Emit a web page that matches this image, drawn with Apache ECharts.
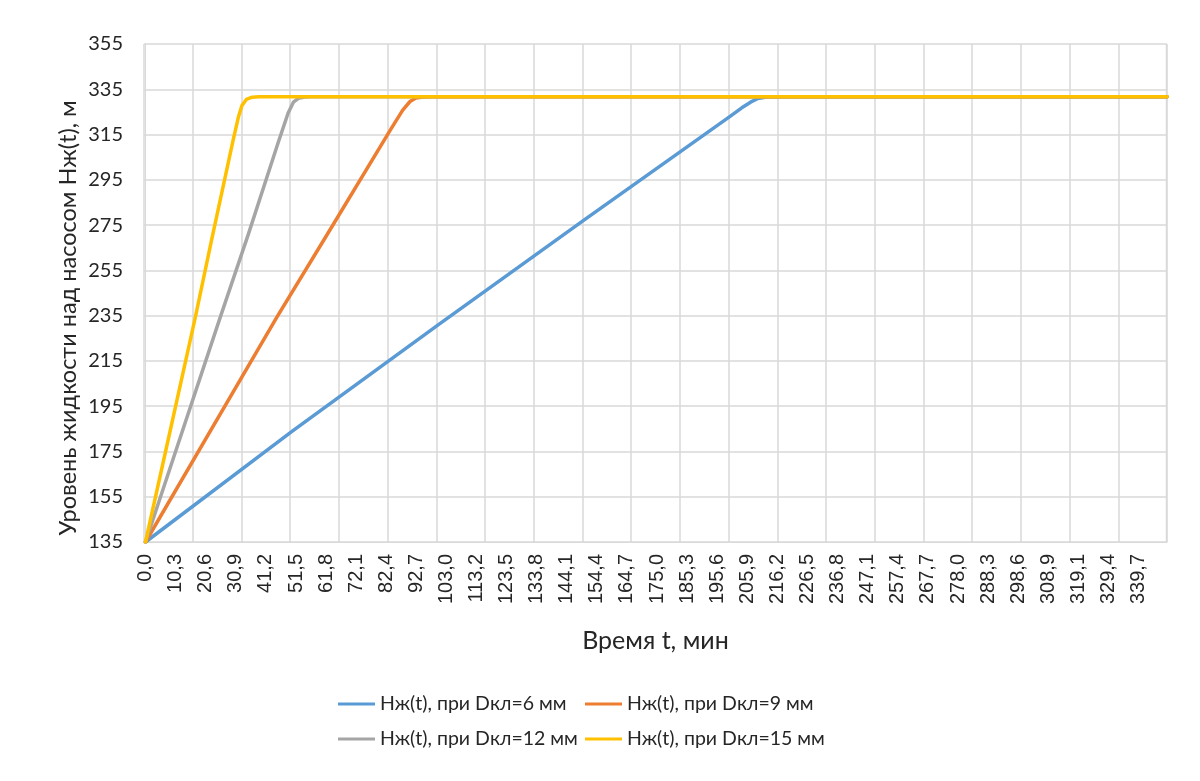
<!DOCTYPE html>
<html>
<head>
<meta charset="utf-8">
<script src="https://cdn.jsdelivr.net/npm/echarts@6/dist/echarts.min.js"></script>
<style>html,body{margin:0;padding:0;background:#fff}#c{width:1200px;height:781px}</style>
</head>
<body>
<div id="c"></div>
<script>
// ---- data ----
const seriesNames = ['Нж(t), при Dкл=6 мм', 'Нж(t), при Dкл=9 мм', 'Нж(t), при Dкл=12 мм', 'Нж(t), при Dкл=15 мм'];
// [time (min), level (m)] breakpoints
const d6  = [[0,135],[50,183.8],[100,230.8],[150,277.2],[200,323],[204,326.8],[207,329.3],[209.5,330.9],[212.5,331.6],[216,331.7],[349.5,331.7]];
const d9  = [[0,135],[45,234.5],[62,270.5],[84,317.5],[88,325.8],[90.5,329.6],[92.5,331.1],[95,331.6],[98,331.7],[349.5,331.7]];
const d12 = [[0,135],[25.5,234],[35.2,271],[45.4,311.5],[48.8,324.5],[50.6,329.3],[52.3,331.0],[54.5,331.6],[57,331.7],[349.5,331.7]];
const d15 = [[0,135],[17,234],[22.6,268.4],[30,312.6],[31.8,322.8],[33,327.8],[34.5,330.5],[36.5,331.5],[39,331.7],[349.5,331.7]];
const xTickLabels = ['0,0','10,3','20,6','30,9','41,2','51,5','61,8','72,1','82,4','92,7','103,0','113,2','123,5','133,8','144,1','154,4','164,7','175,0','185,3','195,6','205,9','216,2','226,5','236,8','247,1','257,4','267,7','278,0','288,3','298,6','308,9','319,1','329,4','339,7'];
const yMin = 135, yMax = 355, yStep = 20;
const xStep = 350 / 340;               // time per category in the source sheet
const xMin = -xStep / 2, xMax = 339.5 * xStep;
const colors = ['#5b9bd5', '#ed7d31', '#a5a5a5', '#ffc000'];

const xTickValues = xTickLabels.map(s => parseFloat(s.replace(',', '.')));
const labelFont = 'Lato, "Open Sans", sans-serif';

const chart = echarts.init(document.getElementById('c'), null, {renderer: 'canvas'});
const datas = [d6, d9, d12, d15];
chart.setOption({
  animation: false,
  backgroundColor: '#ffffff',
  grid: {left: 144, right: 33, top: 44, bottom: 239, containLabel: false},
  xAxis: [{
    type: 'value', min: xMin, max: xMax,
    name: 'Время t, мин', nameLocation: 'middle', nameGap: 86,
    nameTextStyle: {fontFamily: labelFont, fontSize: 25, color: '#262626'},
    axisLine: {show: true, lineStyle: {color: '#d9d9d9', width: 1}},
    axisTick: {show: false},
    splitLine: {show: false},
    axisLabel: {
      customValues: xTickValues,
      rotate: 90, margin: 12,
      fontFamily: '"Liberation Sans", Arial, sans-serif', fontSize: 20, color: '#262626',
      formatter: function (v) {
        let best = -1, bd = 1e9;
        xTickValues.forEach((t, i) => { const dd = Math.abs(t - v); if (dd < bd) { bd = dd; best = i; } });
        return bd < 1 ? xTickLabels[best] : '';
      }
    }
  }, {
    type: 'value', min: xMin, max: xMax, interval: (xMax - xMin) / 21,
    position: 'bottom',
    axisLine: {show: false}, axisTick: {show: false}, axisLabel: {show: false},
    splitLine: {show: true, lineStyle: {color: '#d9d9d9', width: 1.5}}
  }],
  yAxis: {
    type: 'value', min: yMin, max: yMax, interval: yStep,
    axisLine: {show: true, lineStyle: {color: '#d9d9d9'}},
    axisTick: {show: false},
    axisLabel: {fontFamily: labelFont, fontSize: 20, color: '#262626', margin: 21},
    splitLine: {show: true, lineStyle: {color: '#d9d9d9', width: 1.5}}
  },
  graphic: [{
    type: 'text', x: 68, y: 318, rotation: Math.PI / 2,
    style: {text: 'Уровень жидкости над насосом Нж(t), м', font: '23.5px Lato, "Open Sans", sans-serif',
            fill: '#262626', align: 'center', verticalAlign: 'middle'}
  }, {
    type: 'rect', shape: {x: 1166.5, y: 44, width: 0, height: 498},
    style: {stroke: '#d9d9d9', lineWidth: 1.5, fill: null}
  }],
  legend: [{
    data: [seriesNames[0], seriesNames[2]], orient: 'vertical', left: 333, top: 689,
    itemGap: 15, icon: 'rect', itemWidth: 37, itemHeight: 3,
    textStyle: {fontFamily: labelFont, fontSize: 19.5, color: '#262626'}
  }, {
    data: [seriesNames[1], seriesNames[3]], orient: 'vertical', left: 580, top: 689,
    itemGap: 15, icon: 'rect', itemWidth: 37, itemHeight: 3,
    textStyle: {fontFamily: labelFont, fontSize: 19.5, color: '#262626'}
  }],
  series: datas.map((d, i) => ({
    name: seriesNames[i], type: 'line', xAxisIndex: 0, data: d,
    showSymbol: false, symbol: 'none',
    lineStyle: {color: colors[i], width: 3.5, cap: 'round', join: 'round'},
    itemStyle: {color: colors[i]},
    z: 2 + i
  }))
});
</script>
</body>
</html>
